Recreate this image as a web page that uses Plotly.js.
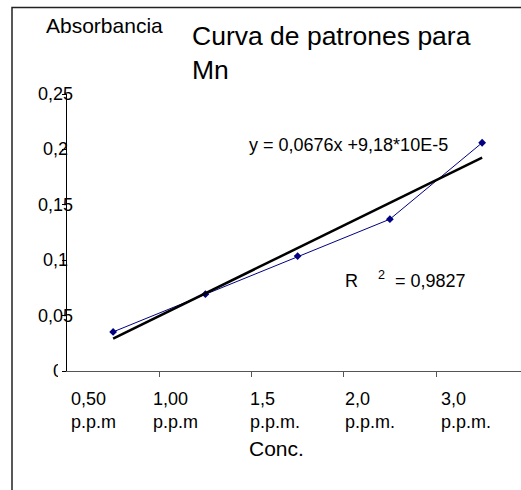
<!DOCTYPE html>
<html><head><meta charset="utf-8">
<script src="https://cdn.plot.ly/plotly-3.0.1.min.js"></script>
<style>html,body{margin:0;padding:0;background:#fff;overflow:hidden}</style>
</head><body><div id="chart" style="width:521px;height:490px"></div>
<script>
// ---- data ----
const categories = [1, 2, 3, 4, 5];
const tickLabels = ['0,50<br>p.p.m', '1,00<br>p.p.m', '1,5<br>p.p.m.', '2,0<br>p.p.m.', '3,0<br>p.p.m.'];
const absorbance = [0.0353, 0.0693, 0.1037, 0.137, 0.206];
const trendX = [1, 5];
const trendY = [0.0293, 0.1926];
const yTickVals = [0, 0.05, 0.1, 0.15, 0.2, 0.25];
const yTickText = ['0', '0,05', '0,1', '0,15', '0,2', '0,25'];
const titleText = 'Curva de patrones para<br>Mn';
const yTitleText = 'Absorbancia';
const xTitleText = 'Conc.';
const equationText = 'y = 0,0676x +9,18*10E-5';
const r2Text = 'R\u00a0\u00a0\u00a0\u00a0<sup>2</sup>\u00a0\u00a0= 0,9827';

// ---- layout geometry ----
const W = 521, H = 490;
const L = 67, T = 93.5, PW = 454, PH = 277.2;
const px2x = p => (p - L) / PW;
const px2y = p => 1 - (p - T) / PH;
const FONT = 'Liberation Sans, Arial, sans-serif';
const xLabelShift = [2, -8, -4, -1, 3];

const annotations = [];
tickLabels.forEach((t, i) => {
  annotations.push({
    text: t, xref: 'x', yref: 'y', x: categories[i] - 0.5, y: 0,
    xanchor: 'left', yanchor: 'top', align: 'left', showarrow: false,
    xshift: xLabelShift[i], yshift: -15.5,
    font: {family: FONT, size: 18, color: '#000'}
  });
});
yTickText.forEach((t, i) => {
  const a = {
    text: t, xref: 'paper', yref: 'y', x: px2x(55), y: yTickVals[i],
    xanchor: 'center', yanchor: 'middle', showarrow: false,
    font: {family: FONT, size: 18, color: '#000'}
  };
  if (yTickVals[i] === 0) { a.width = 5; a.align = 'left'; }
  annotations.push(a);
});
annotations.push({text: yTitleText, xref: 'paper', yref: 'paper', x: px2x(104), y: px2y(25),
  xanchor: 'center', yanchor: 'middle', showarrow: false, font: {family: FONT, size: 21, color: '#000'}});
annotations.push({text: xTitleText, xref: 'paper', yref: 'paper', x: px2x(247), y: px2y(448),
  xanchor: 'left', yanchor: 'middle', showarrow: false, font: {family: FONT, size: 21, color: '#000'}});
annotations.push({text: equationText, xref: 'paper', yref: 'paper', x: px2x(247), y: px2y(145),
  xanchor: 'left', yanchor: 'middle', showarrow: false, font: {family: FONT, size: 18, color: '#000'}});
annotations.push({text: r2Text, xref: 'paper', yref: 'paper', x: px2x(343), y: px2y(279),
  xanchor: 'left', yanchor: 'middle', showarrow: false, font: {family: FONT, size: 18, color: '#000'}});

const data = [
  {x: categories, y: absorbance, type: 'scatter', mode: 'lines+markers',
   line: {color: '#000080', width: 1}, marker: {symbol: 'diamond', size: 6, color: '#000080'},
   hoverinfo: 'skip', showlegend: false},
  {x: trendX, y: trendY, type: 'scatter', mode: 'lines',
   line: {color: '#000', width: 2.5}, hoverinfo: 'skip', showlegend: false}
];

const layout = {
  width: W, height: H,
  margin: {l: L, r: W - L - PW, t: T, b: H - T - PH, pad: 0},
  paper_bgcolor: '#fff', plot_bgcolor: '#fff',
  font: {family: FONT, color: '#000'},
  showlegend: false,
  title: {text: titleText, xref: 'container', yref: 'container', x: 192 / W, y: 1 - 45 / H,
    xanchor: 'left', yanchor: 'top', font: {family: FONT, size: 26.5, color: '#000'}},
  xaxis: {range: [0.5, 0.5 + PW / 92.25], showgrid: false, zeroline: false,
    showline: true, linecolor: '#555', linewidth: 1,
    tickmode: 'array', tickvals: [1.5, 2.5, 3.5, 4.5], ticks: 'outside', ticklen: 5, tickcolor: '#555',
    showticklabels: false, fixedrange: true},
  yaxis: {range: [0, 0.25], showgrid: false, zeroline: false,
    showline: true, linecolor: '#000', linewidth: 1,
    tickmode: 'array', tickvals: yTickVals, ticks: 'outside', ticklen: 4, tickcolor: '#000',
    showticklabels: false, fixedrange: true},
  annotations: annotations,
  shapes: [{type: 'rect', xref: 'paper', yref: 'paper', x0: px2x(12), x1: px2x(600), y0: px2y(600), y1: px2y(7),
    line: {color: '#222', width: 1.5}, fillcolor: 'rgba(0,0,0,0)', layer: 'below'}]
};

Plotly.newPlot('chart', data, layout, {staticPlot: true, displayModeBar: false});
</script></body></html>
